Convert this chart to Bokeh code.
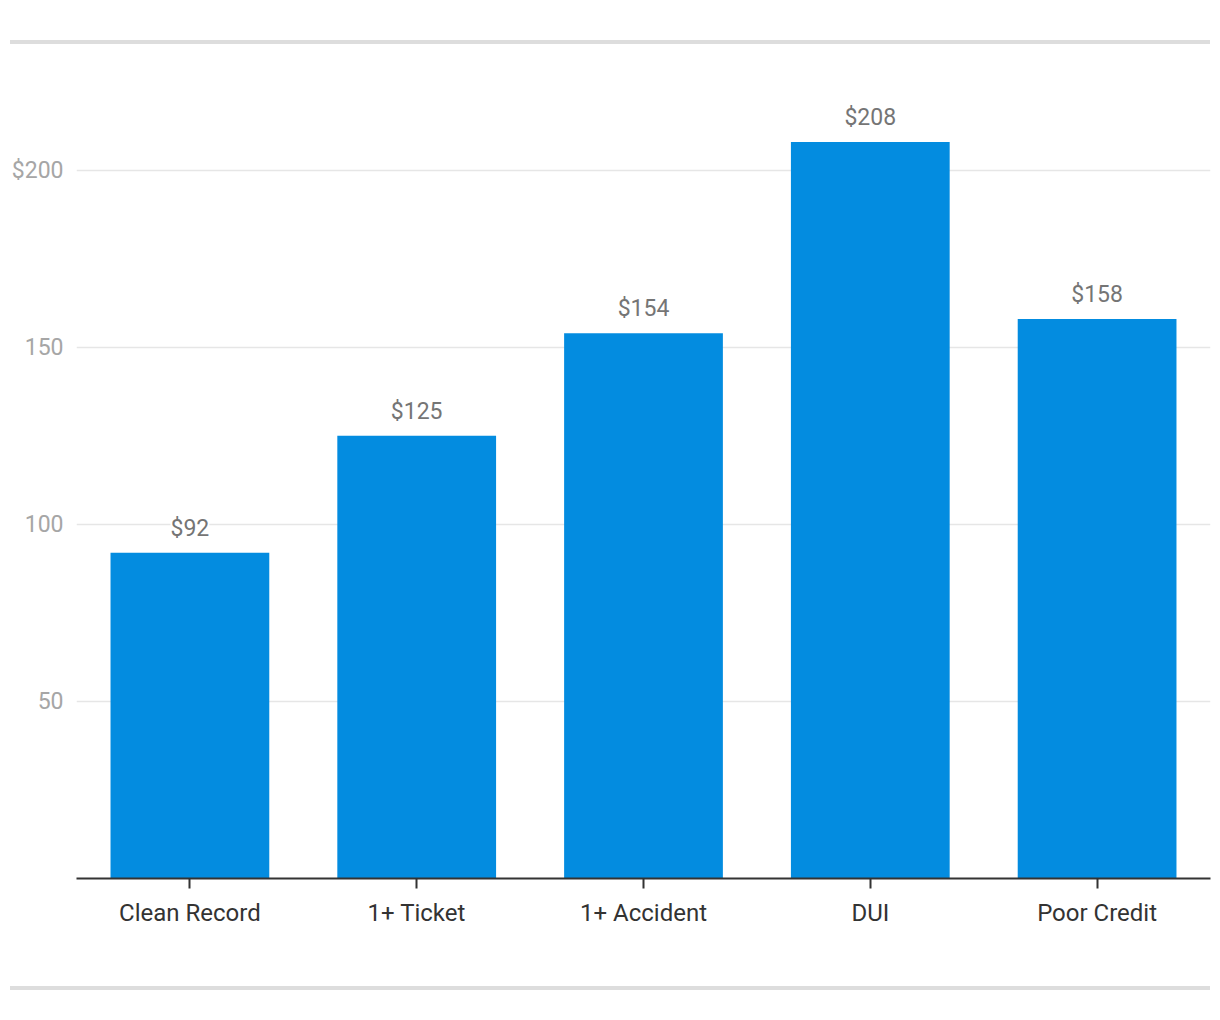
from bokeh.plotting import figure
from bokeh.models import ColumnDataSource, FactorRange, Range1d, FixedTicker, LabelSet, Div
from bokeh.layouts import column
from bokeh.core.properties import value
from bokeh.embed import file_html
from bokeh.resources import INLINE

categories = ["Clean Record", "1+ Ticket", "1+ Accident", "DUI", "Poor Credit"]
values = [92, 125, 154, 208, 158]
value_labels = ["$92", "$125", "$154", "$208", "$158"]
y_ticks = [50, 100, 150, 200]
y_tick_labels = ["50", "100", "150", "$200"]

src = ColumnDataSource(dict(cat=categories, val=values, lab=value_labels))

p = figure(width=1220, height=938, x_range=FactorRange(*categories, range_padding=0),
           y_range=Range1d(0, 231), output_backend="svg", toolbar_location=None,
           min_border_left=76, min_border_right=10, min_border_top=14, min_border_bottom=106,
           margin=0)
p.outline_line_color = None
p.background_fill_color = "white"
p.border_fill_color = "white"

p.vbar(x="cat", top="val", width=0.7, source=src, color="#038ce0", line_color=None)

p.xgrid.grid_line_color = None
p.ygrid.grid_line_color = "#e6e6e6"
p.ygrid.grid_line_width = 1.5
p.yaxis.ticker = FixedTicker(ticks=y_ticks)
p.yaxis.major_label_overrides = {t: l for t, l in zip(y_ticks, y_tick_labels)}
p.yaxis.axis_line_color = None
p.yaxis.major_tick_line_color = None
p.yaxis.minor_tick_line_color = None
p.yaxis.major_tick_out = 0
p.yaxis.major_label_standoff = 13
p.yaxis.major_label_text_font = "Roboto"
p.yaxis.major_label_text_font_size = "23px"
p.yaxis.major_label_text_color = "#a6a6a6"

p.xaxis.axis_line_color = "#333333"
p.xaxis.axis_line_width = 2
p.xaxis.major_tick_line_color = "#333333"
p.xaxis.major_tick_line_width = 2
p.xaxis.major_tick_in = 0
p.xaxis.major_tick_out = 10
p.xaxis.major_label_standoff = 10
p.xaxis.major_label_text_font = "Roboto"
p.xaxis.major_label_text_font_size = "24px"
p.xaxis.major_label_text_color = "#333333"

labels = LabelSet(x="cat", y="val", text="lab", source=src, text_align="center",
                  text_baseline="alphabetic", y_offset=17, text_font=value("Roboto"),
                  text_font_size="23px", text_color="#757575",
                  background_fill_color="white")
p.add_layout(labels)

line_style = "width:1200px;height:4px;background:#dddddd;position:absolute;left:10px;"
top_div = Div(text=f'<div style="{line_style}top:40px;"></div>', width=1220, height=46, margin=0)
bottom_div = Div(text=f'<div style="{line_style}top:2px;"></div>', width=1220, height=36, margin=0)

layout = column(top_div, p, bottom_div, spacing=0)
open("out.html", "w").write(file_html(layout, INLINE))
